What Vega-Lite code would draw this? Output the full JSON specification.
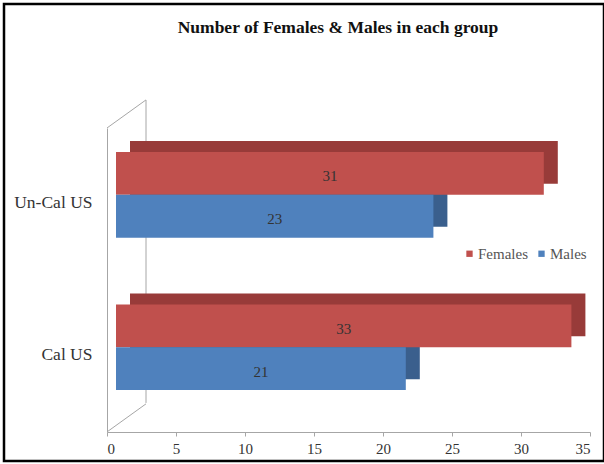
{
  "$schema": "https://vega.github.io/schema/vega-lite/v6.json",
  "width": 600,
  "height": 457,
  "autosize": {"type": "none"},
  "padding": {"left": 4, "top": 4, "right": 0, "bottom": 3},
  "background": "white",
  "config": {
    "view": {"stroke": "#000000", "strokeWidth": 2.5}
  },
  "title": {
    "text": "Number of Females & Males in each group",
    "font": "Liberation Serif",
    "fontSize": 17.5,
    "fontWeight": "bold",
    "color": "#111111",
    "anchor": "middle",
    "frame": "group",
    "offset": -32,
    "dx": 34
  },
  "datasets": {
    "counts": [
      {"group": "Un-Cal US", "sex": "Females", "n": 31},
      {"group": "Un-Cal US", "sex": "Males", "n": 23},
      {"group": "Cal US", "sex": "Females", "n": 33},
      {"group": "Cal US", "sex": "Males", "n": 21}
    ]
  },
  "resolve": {"scale": {"yOffset": "independent"}},
  "layer": [
    {
      "data": {"values": [{}]},
      "mark": {"type": "rule", "color": "#A6A6A6", "strokeWidth": 1, "xOffset": 39, "yOffset": -52},
      "encoding": {
        "x": {"datum": 0, "type": "quantitative"},
        "y": {"datum": "Un-Cal US", "type": "nominal", "bandPosition": 0},
        "y2": {"datum": "Un-Cal US"}
      }
    },
    {
      "data": {"values": [{}]},
      "mark": {"type": "rule", "color": "#A6A6A6", "strokeWidth": 1, "xOffset": 39, "yOffset": 98.5},
      "encoding": {
        "x": {"datum": 0, "type": "quantitative"},
        "y": {"datum": "Cal US", "type": "nominal", "bandPosition": 0},
        "y2": {"datum": "Un-Cal US"}
      }
    },
    {
      "data": {"values": [{"edge": "top"}]},
      "mark": {"type": "point", "shape": "M0,0L1,-0.72", "size": 6084, "filled": false, "stroke": "#A6A6A6", "strokeWidth": 1, "opacity": 1, "yOffset": -24},
      "encoding": {
        "x": {"datum": 0, "type": "quantitative"},
        "y": {"datum": "Un-Cal US", "type": "nominal", "bandPosition": 0}
      }
    },
    {
      "data": {"values": [{"edge": "floor"}]},
      "mark": {"type": "point", "shape": "M0,0L1,-0.72", "size": 6084, "filled": false, "stroke": "#A6A6A6", "strokeWidth": 1, "opacity": 1, "yOffset": 127.5},
      "encoding": {
        "x": {"datum": 0, "type": "quantitative"},
        "y": {"datum": "Cal US", "type": "nominal", "bandPosition": 0}
      }
    },
    {
      "data": {"name": "counts"},
      "mark": {"type": "bar", "xOffset": 23, "x2Offset": 23},
      "encoding": {
        "y": {"field": "group", "type": "nominal"},
        "yOffset": {"field": "sex", "sort": ["Females", "Males"], "scale": {"range": [-11, 74.7], "paddingInner": 0, "paddingOuter": 0}},
        "x": {"field": "n", "type": "quantitative"},
        "color": {
          "condition": {"test": "datum.sex === 'Females'", "value": "#983B39"},
          "value": "#3A5F8D"
        }
      }
    },
    {
      "data": {"name": "counts"},
      "mark": {"type": "bar", "xOffset": 9, "x2Offset": 9},
      "encoding": {
        "y": {
          "field": "group",
          "type": "nominal",
          "sort": ["Un-Cal US", "Cal US"],
          "scale": {"domain": ["Un-Cal US", "Cal US"], "range": [124, 428], "paddingInner": 0.438, "paddingOuter": 0.216, "align": 0.364},
          "axis": {
            "title": null,
            "domain": true,
            "domainColor": "#A6A6A6",
            "ticks": false,
            "labelFont": "Liberation Serif",
            "labelFontSize": 17.5,
            "labelColor": "#333333",
            "labelPadding": 15,
            "labelOffset": 8,
            "offset": -103
          }
        },
        "yOffset": {"field": "sex", "sort": ["Females", "Males"], "scale": {"paddingInner": 0, "paddingOuter": 0}},
        "x": {
          "field": "n",
          "type": "quantitative",
          "scale": {"domain": [0, 35], "range": [103, 586], "nice": false},
          "axis": {
            "title": null,
            "values": [0, 5, 10, 15, 20, 25, 30, 35],
            "grid": false,
            "domainColor": "#A6A6A6",
            "tickColor": "#A6A6A6",
            "tickSize": 4,
            "labelFont": "Liberation Serif",
            "labelFontSize": 15,
            "labelColor": "#333333",
            "labelPadding": 5,
            "offset": -29
          }
        },
        "color": {
          "field": "sex",
          "type": "nominal",
          "scale": {"domain": ["Females", "Males"], "range": ["#C0504D", "#4F81BD"]},
          "legend": {
            "title": null,
            "orient": "none",
            "legendX": 458,
            "legendY": 242,
            "direction": "horizontal",
            "symbolType": "square",
            "symbolSize": 40,
            "symbolStrokeWidth": 0,
            "labelFont": "Liberation Serif",
            "labelFontSize": 15,
            "labelColor": "#555555",
            "columnPadding": 6,
            "labelOffset": 1
          }
        }
      }
    },
    {
      "data": {"name": "counts"},
      "transform": [{"calculate": "datum.n / 2", "as": "mid"}],
      "mark": {"type": "text", "font": "Liberation Serif", "fontSize": 15, "color": "#333333", "xOffset": 9, "dy": 3},
      "encoding": {
        "y": {"field": "group", "type": "nominal"},
        "yOffset": {"field": "sex", "sort": ["Females", "Males"]},
        "x": {"field": "mid", "type": "quantitative"},
        "text": {"field": "n", "type": "quantitative"}
      }
    }
  ]
}
